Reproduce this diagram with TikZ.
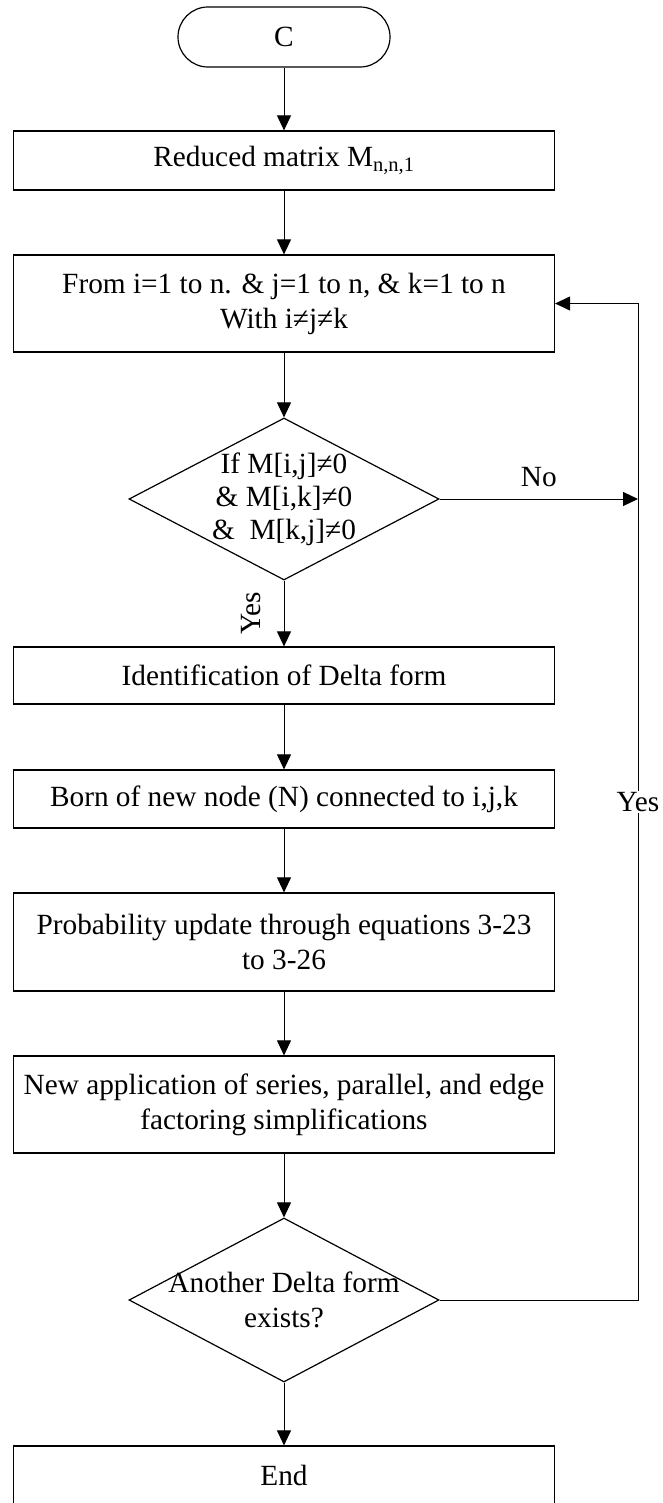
\documentclass[tikz,border=0pt]{standalone}
\usepackage{fontspec}
\setmainfont{Liberation Serif}
\usetikzlibrary{shapes.geometric,arrows.meta}

\tikzset{
  every node/.style={font=\fontsize{29.3}{35}\selectfont},
  procbox/.style={draw, line width=1.2pt, rectangle, minimum width=541pt, inner sep=0pt, align=center},
  termbox/.style={draw, line width=1.2pt, rectangle, rounded corners=30pt, minimum width=212pt, minimum height=60pt},
  decision/.style={draw, line width=1.2pt, diamond, minimum width=310pt, minimum height=162pt, inner sep=0pt},
  flow/.style={line width=1pt, -{Triangle[length=15pt,width=14pt]}},
  tag/.style={fill=white, inner sep=1.5pt}
}

\begin{document}
\begin{tikzpicture}[x=1pt, y=-1pt]
  \useasboundingbox[fill=white] (0,0) rectangle (662,1503);

  % column of steps
  \node[termbox] (start) at (284,37) {C};
  \node[procbox, minimum height=59pt] (reduced) at (284,160.5) {Reduced matrix M\textsubscript{n,n,1}};
  \node[procbox, minimum height=97pt] (loop) at (284,303.5)
    {From i=1 to n. \& j=1 to n, \& k=1 to n\\With i≠j≠k};
  \node[decision] (test) at (284,499) {};
  \node[align=center, font=\fontsize{29.3}{33}\selectfont] (testtext) at (test.center)
    {If M[i,j]≠0\\\& M[i,k]≠0\\\&~ M[k,j]≠0};
  \node[procbox, minimum height=57pt] (ident) at (284,675.5) {Identification of Delta form};
  \node[procbox, minimum height=58pt] (born) at (284,799) {Born of new node (N) connected to i,j,k};
  \node[procbox, minimum height=98pt] (prob) at (284,942)
    {Probability update through equations 3-23\\to 3-26};
  \node[procbox, minimum height=97pt] (simp) at (284,1104.5)
    {New application of series, parallel, and edge\\factoring simplifications};
  \node[decision, minimum height=164pt] (again) at (284,1300) {};
  \node[align=center] (againtext) at (again.center) {Another Delta form\\exists?};
  \node[procbox, minimum height=58pt] (finish) at (284,1475) {End};

  % return line on the right
  \coordinate (rail) at (638,0);

  % main flow
  \draw[flow] (start) -- (reduced);
  \draw[flow] (reduced) -- (loop);
  \draw[flow] (loop) -- (test);
  \draw[flow] (test) -- node[tag, xshift=-33pt, rotate=90] {Yes} (ident);
  \draw[flow] (ident) -- (born);
  \draw[flow] (born) -- (prob);
  \draw[flow] (prob) -- (simp);
  \draw[flow] (simp) -- (again);
  \draw[flow] (again) -- (finish);

  % branches back to the loop
  \draw[flow] (test.east) -- node[tag, above=10pt] {No} (test.east -| rail);
  \draw[flow] (again.east) -- (again.east -| rail)
    -- node[tag, pos=0.5] {Yes} (rail |- loop.east) -- (loop.east);
\end{tikzpicture}
\end{document}
